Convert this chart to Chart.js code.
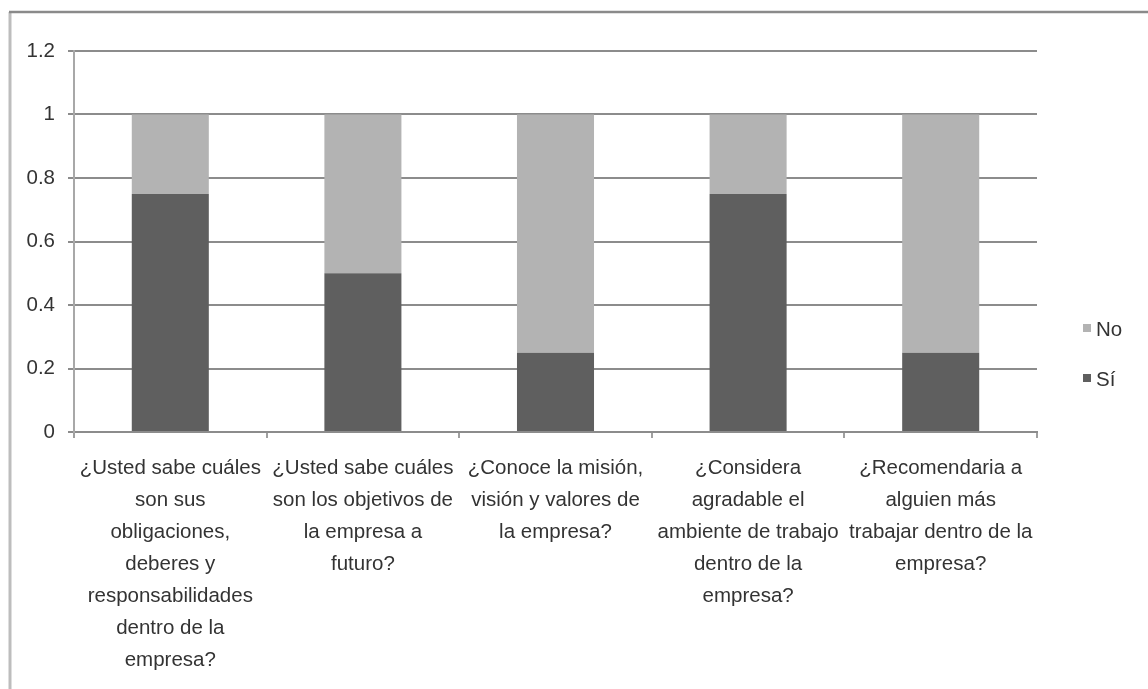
<!DOCTYPE html>
<html>
<head>
<meta charset="utf-8">
<script src="https://cdn.jsdelivr.net/npm/chart.js@4.4.1/dist/chart.umd.min.js"></script>
<style>
  html, body { margin: 0; padding: 0; background: #ffffff; }
  #wrap { position: relative; width: 1148px; height: 689px; }
</style>
</head>
<body>
<div id="wrap"><canvas id="chart" width="1148" height="689"></canvas></div>
<script>
// Survey questions (wrapped as they appear under the axis)
const categories = [
  ["¿Usted sabe cuáles", "son sus", "obligaciones,", "deberes y", "responsabilidades", "dentro de la", "empresa?"],
  ["¿Usted sabe cuáles", "son los objetivos de", "la empresa a", "futuro?"],
  ["¿Conoce la misión,", "visión y valores de", "la empresa?"],
  ["¿Considera", "agradable el", "ambiente de trabajo", "dentro de la", "empresa?"],
  ["¿Recomendaria a", "alguien más", "trabajar dentro de la", "empresa?"]
];

// Share of answers per question
const siValues = [0.75, 0.5, 0.25, 0.75, 0.25];
const noValues = [0.25, 0.5, 0.75, 0.25, 0.75];

// Value axis ticks
const yTicks = [0, 0.2, 0.4, 0.6, 0.8, 1, 1.2];

const FONT = "'Liberation Sans', Arial, Helvetica, sans-serif";
const FONT_SIZE = 20.5;
const TEXT = '#333333';

// Outer frame of the chart (top and left edges)
const framePlugin = {
  id: 'frame',
  beforeDraw(chart) {
    const ctx = chart.ctx;
    ctx.save();
    ctx.lineCap = 'butt';
    ctx.strokeStyle = '#bdbdbd';
    ctx.lineWidth = 3;
    ctx.beginPath();
    ctx.moveTo(10, 12);
    ctx.lineTo(10, chart.height);
    ctx.stroke();
    ctx.strokeStyle = '#8a8a8a';
    ctx.lineWidth = 2.5;
    ctx.beginPath();
    ctx.moveTo(9, 12);
    ctx.lineTo(chart.width, 12);
    ctx.stroke();
    ctx.restore();
  }
};

// Legend at the right: top-most stack segment listed first
const sideLegend = {
  id: 'sideLegend',
  afterDraw(chart) {
    const ctx = chart.ctx;
    const sets = chart.data.datasets.slice().reverse();
    const x = chart.chartArea.right + 46;
    const y0 = 329;
    const gap = 50;
    ctx.save();
    ctx.font = FONT_SIZE + 'px ' + FONT;
    ctx.textBaseline = 'middle';
    ctx.textAlign = 'left';
    sets.forEach((ds, i) => {
      const y = y0 + i * gap;
      ctx.fillStyle = ds.backgroundColor;
      ctx.fillRect(x, y - 5, 8, 8);
      ctx.fillStyle = TEXT;
      ctx.fillText(ds.label, x + 13, y + 1);
    });
    ctx.restore();
  }
};

new Chart(document.getElementById('chart'), {
  type: 'bar',
  data: {
    labels: categories,
    datasets: [
      { label: 'Sí', data: siValues, backgroundColor: '#5f5f5f', borderWidth: 0 },
      { label: 'No', data: noValues, backgroundColor: '#b3b3b3', borderWidth: 0 }
    ]
  },
  options: {
    responsive: false,
    animation: false,
    devicePixelRatio: 1,
    layout: { padding: { top: 51, right: 111, left: 0, bottom: 0 } },
    datasets: { bar: { categoryPercentage: 1, barPercentage: 0.4 } },
    plugins: {
      legend: { display: false },
      tooltip: { enabled: false }
    },
    scales: {
      x: {
        stacked: true,
        grid: {
          display: true,
          drawOnChartArea: false,
          drawTicks: true,
          tickLength: 6,
          color: '#a0a0a0',
          lineWidth: 2,
          offset: true
        },
        border: { display: true, color: '#8c8c8c', width: 2 },
        ticks: {
          color: TEXT,
          font: { family: FONT, size: FONT_SIZE, lineHeight: 32 / FONT_SIZE },
          maxRotation: 0,
          minRotation: 0,
          autoSkip: false,
          padding: 14
        },
        afterFit(scale) { scale.height = 257; }
      },
      y: {
        stacked: true,
        min: 0,
        max: 1.2,
        afterBuildTicks(scale) { scale.ticks = yTicks.map(v => ({ value: v })); },
        grid: {
          color: '#8c8c8c',
          lineWidth: 2,
          drawTicks: true,
          tickLength: 6
        },
        border: { display: true, color: '#a8a8a8', width: 2 },
        ticks: {
          color: TEXT,
          font: { family: FONT, size: FONT_SIZE },
          padding: 13,
          callback: v => String(+v.toFixed(1))
        },
        afterFit(scale) { scale.width = 74; }
      }
    }
  },
  plugins: [framePlugin, sideLegend]
});
</script>
</body>
</html>
